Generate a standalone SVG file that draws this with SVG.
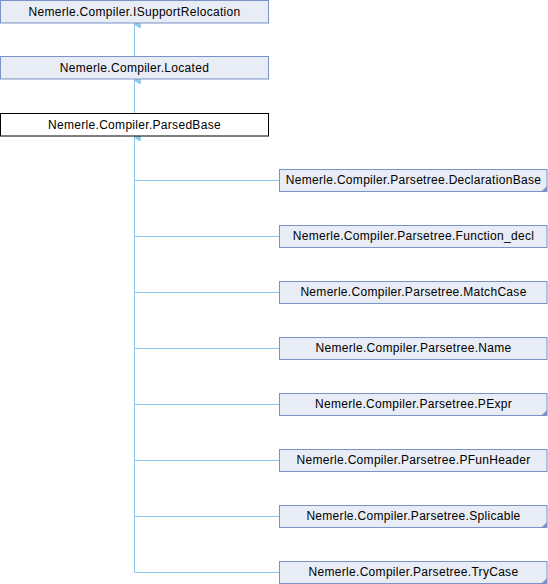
<svg xmlns="http://www.w3.org/2000/svg" width="548" height="584" viewBox="0 0 548 584">
<style>
.n rect{fill:#E8ECF5;stroke:#7A92C8;stroke-width:1}
.n.cur rect{fill:#FFFFFF;stroke:#000000}
.n text{font-family:"Liberation Sans",Arial,sans-serif;font-size:12px;letter-spacing:0.3px;fill:#000;text-anchor:middle}
.fold{fill:#7A92C8;stroke:none}
.e{stroke:#8CC8EE;stroke-width:1;fill:none}
</style>
<defs>
<marker id="ah" markerWidth="8" markerHeight="8" refX="3.5" refY="1" orient="auto-start-reverse" markerUnits="userSpaceOnUse" viewBox="0 0 7 7">
<path d="M0,6 L3.5,1 L7,6 Z" fill="#8CC8EE" stroke="#8CC8EE" stroke-width="1"/>
</marker>
</defs>
<g id="edges">
<path class="e" d="M134.5,57 V24" marker-end="url(#ah)"/>
<path class="e" d="M134.5,113 V80" marker-end="url(#ah)"/>
<path class="e" d="M134.5,572.5 V137" marker-end="url(#ah)"/>
<path class="e" d="M134.5,180.5 H279.5"/>
<path class="e" d="M134.5,236.5 H279.5"/>
<path class="e" d="M134.5,292.5 H279.5"/>
<path class="e" d="M134.5,348.5 H279.5"/>
<path class="e" d="M134.5,404.5 H279.5"/>
<path class="e" d="M134.5,460.5 H279.5"/>
<path class="e" d="M134.5,516.5 H279.5"/>
<path class="e" d="M134.5,572.5 H279.5"/>
</g>
<g id="n0" class="n"><rect x="0.5" y="0.5" width="268" height="22.5"/><text x="134.5" y="16">Nemerle.Compiler.ISupportRelocation</text></g>
<g id="n1" class="n"><rect x="0.5" y="56.5" width="268" height="22.5"/><text x="134.5" y="72">Nemerle.Compiler.Located</text></g>
<g id="n2" class="n cur"><rect x="0.5" y="113.5" width="268" height="22.5"/><text x="134.5" y="129">Nemerle.Compiler.ParsedBase</text></g>
<g id="n3" class="n"><rect x="279.5" y="169.5" width="267.5" height="22"/><text x="413.5" y="184">Nemerle.Compiler.Parsetree.DeclarationBase</text><path class="fold" d="M547,186 V192 H541 Z"/></g>
<g id="n4" class="n"><rect x="279.5" y="225.5" width="267.5" height="22"/><text x="413.5" y="240">Nemerle.Compiler.Parsetree.Function_decl</text></g>
<g id="n5" class="n"><rect x="279.5" y="281.5" width="267.5" height="22"/><text x="413.5" y="296">Nemerle.Compiler.Parsetree.MatchCase</text></g>
<g id="n6" class="n"><rect x="279.5" y="337.5" width="267.5" height="22"/><text x="413.5" y="352">Nemerle.Compiler.Parsetree.Name</text></g>
<g id="n7" class="n"><rect x="279.5" y="393.5" width="267.5" height="22"/><text x="413.5" y="408">Nemerle.Compiler.Parsetree.PExpr</text><path class="fold" d="M547,410 V416 H541 Z"/></g>
<g id="n8" class="n"><rect x="279.5" y="449.5" width="267.5" height="22"/><text x="413.5" y="464">Nemerle.Compiler.Parsetree.PFunHeader</text></g>
<g id="n9" class="n"><rect x="279.5" y="505.5" width="267.5" height="22"/><text x="413.5" y="520">Nemerle.Compiler.Parsetree.Splicable</text><path class="fold" d="M547,522 V528 H541 Z"/></g>
<g id="n10" class="n"><rect x="279.5" y="561.5" width="267.5" height="22"/><text x="413.5" y="576">Nemerle.Compiler.Parsetree.TryCase</text><path class="fold" d="M547,578 V584 H541 Z"/></g>
</svg>
